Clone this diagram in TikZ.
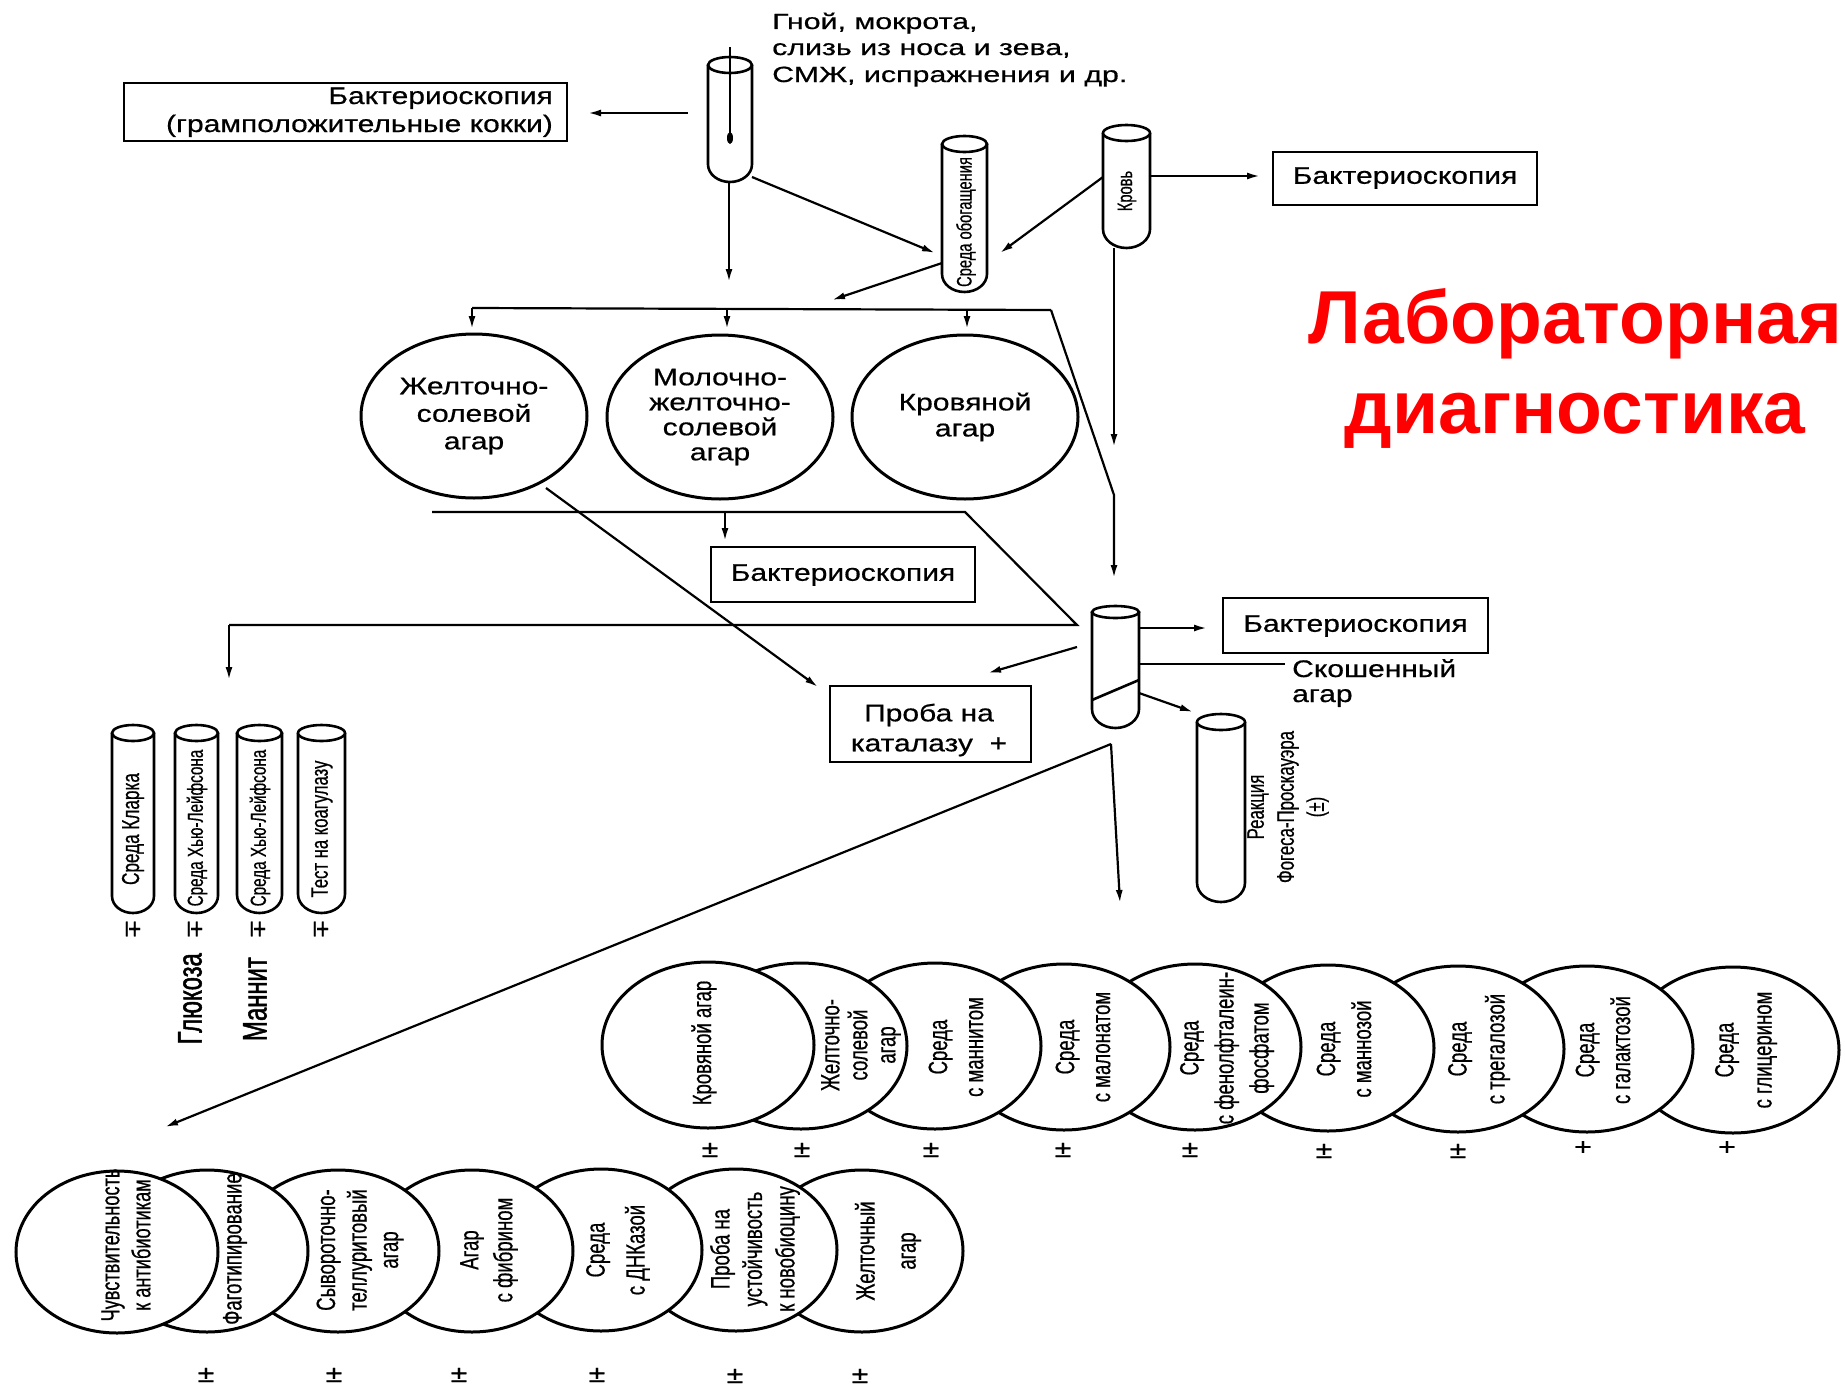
\documentclass[tikz,border=0pt]{standalone}
\usepackage{fontspec}
\setmainfont{Liberation Sans}
\newfontfamily\hfont[FakeStretch=1.25,FakeBold=0.6]{Liberation Sans}
\newfontfamily\tfont[FakeStretch=1.38,FakeBold=0.6]{Liberation Sans}
\newfontfamily\rfont[FakeStretch=0.7,FakeBold=0.6]{Liberation Sans}
\newfontfamily\rbfont[FakeStretch=0.7,FakeBold=1.4]{Liberation Sans}
\usetikzlibrary{arrows.meta,shapes.geometric}
\definecolor{titlered}{RGB}{255,0,0}
\tikzset{
  ln/.style={line width=2.2pt},
  arr/.style={line width=2.2pt,-{Latex[length=13pt,width=7pt]}},
  box/.style={draw,line width=2.6pt,inner sep=0pt},
  plate/.style={draw,ellipse,line width=3pt,fill=white,inner sep=0pt},
  tubeln/.style={line width=2.6pt},
  htxt/.style={font=\hfont\fontsize{24}{27}\selectfont,inner sep=0pt},
  toptxt/.style={font=\tfont\fontsize{22}{26}\selectfont,inner sep=0pt},
  rtxt/.style={font=\rfont\fontsize{26.5}{34}\selectfont,rotate=90,align=center,inner sep=0pt},
  pm/.style={font=\hfont\fontsize{24}{26}\selectfont,inner sep=0pt},
  titletxt/.style={font=\bfseries\fontsize{75}{90}\selectfont,text=titlered,inner sep=0pt}
}
\newcommand{\tubeat}[6]{%
  \draw[tubeln,fill=white] ({#2-#3},#4) -- ({#2-#3},{#5-0.8*#3})
    .. controls ({#2-#3},{#5-0.36*#3}) and ({#2-0.552*#3},#5) .. (#2,#5)
    .. controls ({#2+0.552*#3},#5) and ({#2+#3},{#5-0.36*#3}) .. ({#2+#3},{#5-0.8*#3})
    -- ({#2+#3},#4);
  \draw[tubeln,fill=white] (#2,#4) ellipse [x radius=#3pt, y radius=#6pt];
  \coordinate (#1) at (#2,{(#4+#5)/2});
}
\begin{document}
\begin{tikzpicture}[x=1pt,y=-1pt]
\fill[white] (0,0) rectangle (1845,1390);
\useasboundingbox (0,0) rectangle (1845,1390);

% ---------- title
\node[titletxt,anchor=base] (tit1) at (1575,343) {Лабораторная};
\node[titletxt,anchor=base] (tit2) at (1575,433) {диагностика};

% ---------- source text
\node[toptxt,anchor=base west] (src1) at (772,29) {Гной, мокрота,};
\node[toptxt,anchor=base west] (src2) at (772,55) {слизь из носа и зева,};
\node[toptxt,anchor=base west] (src3) at (772,82) {СМЖ, испражнения и др.};

% ---------- top-left box
\node[box,minimum width=443pt,minimum height=58pt] (b1) at (345.5,112) {};
\node[htxt,anchor=base east] (b1t1) at (553,104) {Бактериоскопия};
\node[htxt,anchor=base east] (b1t2) at (553,132) {(грамположительные кокки)};

% ---------- tubes at top
\tubeat{t1}{730}{22}{65}{182}{8}
\draw[ln] (730,47) -- (730,133);
\fill (730,138) ellipse [x radius=3pt, y radius=6pt];

\tubeat{t2}{964.5}{22.5}{144}{292}{8}
\node[rtxt,font=\rfont\fontsize{21}{24}\selectfont] (t2txt) at (966,222) {Среда обогащения};

\tubeat{t3}{1126.5}{23.5}{133}{248}{8}
\node[rtxt,font=\rfont\fontsize{21}{24}\selectfont] (t3txt) at (1127,191) {Кровь};

% box right top
\node[box,minimum width=264pt,minimum height=53pt] (b2) at (1405,178.5) {};
\node[htxt] (b2t) at (1405,178) {Бактериоскопия};

% connectors top
\coordinate (t1w) at (688,113); \coordinate (b1e) at (588,113);
\draw[arr] (t1w) -- (b1e);
\coordinate (t1s) at (729,182); \coordinate (t1d) at (729,282);
\draw[arr] (t1s) -- (t1d);
\coordinate (t1se) at (752,177); \coordinate (t2w) at (935,253);
\draw[arr] (t1se) -- (t2w);
\coordinate (t3w) at (1103,177); \coordinate (t2e) at (1000,253);
\draw[arr] (t3w) -- (t2e);
\coordinate (t3e) at (1150,176); \coordinate (b2w) at (1260,176);
\draw[arr] (t3e) -- (b2w);
\coordinate (t2sw) at (942,263); \coordinate (dist) at (832,300);
\draw[arr] (t2sw) -- (dist);
\coordinate (t3s) at (1114,248); \coordinate (t3d) at (1114,447);
\draw[arr] (t3s) -- (t3d);

% distribution line
\coordinate (dl) at (472,308); \coordinate (dr) at (1051,310);
\coordinate (dm) at (727,309); \coordinate (dq) at (967,310);
\draw[ln] (dl) -- (dr);
\draw[arr] (dl) -- (472,329);
\draw[arr] (dm) -- (727,329);
\draw[arr] (dq) -- (967,329);
\coordinate (dk) at (1114,495); \coordinate (t4n) at (1114,578);
\draw[arr] (dr) -- (dk) -- (t4n);

% ---------- three plates
\node[plate,minimum width=226pt,minimum height=164pt,align=center,font=\hfont\fontsize{24}{27.5}\selectfont] (e1) at (474,416) {Желточно-\\солевой\\агар};
\node[plate,minimum width=226pt,minimum height=164pt,align=center,font=\hfont\fontsize{24}{25}\selectfont] (e2) at (720,417) {Молочно-\\желточно-\\солевой\\агар};
\node[plate,minimum width=226pt,minimum height=164pt,align=center,font=\hfont\fontsize{24}{26}\selectfont] (e3) at (965,417) {Кровяной\\агар};

% under-plate lines
\coordinate (u1) at (432,512); \coordinate (u2) at (965,512);
\coordinate (u3) at (1077,625); \coordinate (u4) at (229,625);
\coordinate (u5) at (229,680);
\draw[ln] (u1) -- (u2) -- (u3) -- (u4);
\draw[arr] (u4) -- (u5);
\coordinate (um) at (725,512); \coordinate (b3n) at (725,541);
\draw[arr] (um) -- (b3n);

\node[box,minimum width=264pt,minimum height=55pt] (b3) at (843,574.5) {};
\node[htxt] (b3t) at (843,575) {Бактериоскопия};

% catalase
\node[box,minimum width=201pt,minimum height=76pt] (b4) at (930.5,724) {};
\node[htxt,align=center,font=\hfont\fontsize{24}{30}\selectfont] (b4t) at (929,730) {Проба на\\каталазу\ \ +};
\coordinate (e1s) at (546,488); \coordinate (b4nw) at (818,687);
\draw[arr] (e1s) -- (b4nw);
\coordinate (t4w) at (1077,647); \coordinate (b4ne) at (988,673);
\draw[arr] (t4w) -- (b4ne);

% slant tube
\tubeat{t4}{1115.5}{23.5}{612}{728}{6}
\draw[tubeln] (1092,700) -- (1139,680);

\node[box,minimum width=265pt,minimum height=55pt] (b5) at (1355.5,625.5) {};
\node[htxt] (b5t) at (1355.5,626) {Бактериоскопия};
\coordinate (t4e) at (1139,628); \coordinate (b5w) at (1207,628);
\draw[arr] (t4e) -- (b5w);
\coordinate (t4e2) at (1139,664); \coordinate (slab) at (1285,664);
\draw[ln] (t4e2) -- (slab);
\node[htxt,anchor=base west] (sl1) at (1292,677) {Скошенный};
\node[htxt,anchor=base west] (sl2) at (1292,702) {агар};
\coordinate (t4se) at (1139,693); \coordinate (t5nw) at (1193,712);
\draw[arr] (t4se) -- (t5nw);

\tubeat{t5}{1221}{24}{722}{902}{8}
\node[rtxt,font=\rfont\fontsize{24}{30}\selectfont] (t5txt) at (1288,807) {Реакция\\Фогеса-Проскауэра\\(±)};

% fan from slant tube
\coordinate (apex) at (1111,744); \coordinate (row2a) at (165,1127);
\coordinate (row1a) at (1120,903);
\draw[arr] (apex) -- (row2a);
\draw[arr] (apex) -- (row1a);

% ---------- left tubes
\tubeat{lt1}{133}{21}{733}{913}{8}
\node[rtxt,font=\rfont\fontsize{24.5}{30}\selectfont] (lt1t) at (133,829) {Среда Кларка};
\tubeat{lt2}{196.5}{21.5}{733}{913}{8}
\node[rtxt,font=\rfont\fontsize{21.8}{30}\selectfont] (lt2t) at (197,828) {Среда Хью-Лейфсона};
\tubeat{lt3}{259.5}{22.5}{733}{913}{8}
\node[rtxt,font=\rfont\fontsize{21.8}{30}\selectfont] (lt3t) at (260,828) {Среда Хью-Лейфсона};
\tubeat{lt4}{321.5}{23.5}{733}{913}{8}
\node[rtxt,font=\rfont\fontsize{23.8}{30}\selectfont] (lt4t) at (322,829) {Тест на коагулазу};
\node[pm,rotate=-90] (lp1) at (133,929) {±};
\node[pm,rotate=-90] (lp2) at (195,929) {±};
\node[pm,rotate=-90] (lp3) at (258,929) {±};
\node[pm,rotate=-90] (lp4) at (321,929) {±};
\node[rtxt,anchor=east,font=\rbfont\fontsize{34}{40}\selectfont] (glu) at (190,953) {Глюкоза};
\node[rtxt,anchor=east,font=\rbfont\fontsize{34}{40}\selectfont] (man) at (255,957) {Маннит};

% ---------- row 1 plates (right to left so left ones lie on top)
\tikzset{r1/.style={plate,minimum width=212pt,minimum height=166pt}}
\node[r1] (c9) at (1733,1050) {};
\node[r1] (c8) at (1587,1049) {};
\node[r1] (c7) at (1458,1049) {};
\node[r1] (c6) at (1328,1048) {};
\node[r1] (c5) at (1195,1047) {};
\node[r1] (c4) at (1064,1047) {};
\node[r1] (c3) at (935,1046) {};
\node[r1] (c2) at (801,1046) {};
\node[r1] (c1) at (708,1045) {};
\node[rtxt] (c1t) at (704,1043) {Кровяной агар};
\node[rtxt,font=\rfont\fontsize{26.5}{28}\selectfont] (c2t) at (861,1045) {Желточно-\\солевой\\агар};
\node[rtxt,font=\rfont\fontsize{26.5}{36}\selectfont] (c3t) at (956,1047) {Среда\\с маннитом};
\node[rtxt,font=\rfont\fontsize{26.5}{36}\selectfont] (c4t) at (1083,1047) {Среда\\с малонатом};
\node[rtxt,font=\rfont\fontsize{26.5}{35}\selectfont] (c5t) at (1227,1048) {Среда\\с фенолфталеин-\\фосфатом};
\node[rtxt,font=\rfont\fontsize{26.5}{36}\selectfont] (c6t) at (1344,1049) {Среда\\с маннозой};
\node[rtxt,font=\rfont\fontsize{26.5}{38}\selectfont] (c7t) at (1479,1049) {Среда\\с трегалозой};
\node[rtxt,font=\rfont\fontsize{26.5}{36}\selectfont] (c8t) at (1603,1050) {Среда\\с галактозой};
\node[rtxt,font=\rfont\fontsize{26.5}{38}\selectfont] (c9t) at (1746,1050) {Среда\\с глицерином};
\node[pm] (p1) at (710,1150) {±};
\node[pm] (p2) at (802,1150) {±};
\node[pm] (p3) at (931,1150) {±};
\node[pm] (p4) at (1063,1150) {±};
\node[pm] (p5) at (1190,1150) {±};
\node[pm] (p6) at (1324,1151) {±};
\node[pm] (p7) at (1458,1151) {±};
\node[pm] (p8) at (1583,1148) {+};
\node[pm] (p9) at (1727,1148) {+};

% ---------- row 2 plates
\tikzset{r2/.style={plate,minimum width=202pt,minimum height=162pt}}
\node[r2] (d7) at (862,1251) {};
\node[r2] (d6) at (736,1250) {};
\node[r2] (d5) at (601,1250) {};
\node[r2] (d4) at (472,1251) {};
\node[r2] (d3) at (338,1251) {};
\node[r2] (d2) at (207,1251) {};
\node[r2] (d1) at (117,1252) {};
\node[rtxt,font=\rfont\fontsize{26}{31}\selectfont] (d1t) at (126,1245) {Чувствительность\\к антибиотикам};
\node[rtxt] (d2t) at (235,1249) {Фаготипирование};
\node[rtxt,font=\rfont\fontsize{26.5}{31.5}\selectfont] (d3t) at (360,1250) {Сывороточно-\\теллуритовый\\агар};
\node[rtxt,font=\rfont\fontsize{26.5}{34}\selectfont] (d4t) at (489,1250) {Агар\\с фибрином};
\node[rtxt,font=\rfont\fontsize{26.5}{40}\selectfont] (d5t) at (618,1250) {Среда\\с ДНКазой};
\node[rtxt,font=\rfont\fontsize{26.5}{32.5}\selectfont] (d6t) at (755,1249) {Проба на\\устойчивость\\к новобиоцину};
\node[rtxt,font=\rfont\fontsize{26.5}{41}\selectfont] (d7t) at (888,1251) {Желточный\\агар};
\node[pm] (q2) at (206,1375) {±};
\node[pm] (q3) at (334,1375) {±};
\node[pm] (q4) at (459,1375) {±};
\node[pm] (q5) at (597,1375) {±};
\node[pm] (q6) at (735,1376) {±};
\node[pm] (q7) at (860,1376) {±};
\end{tikzpicture}
\end{document}
